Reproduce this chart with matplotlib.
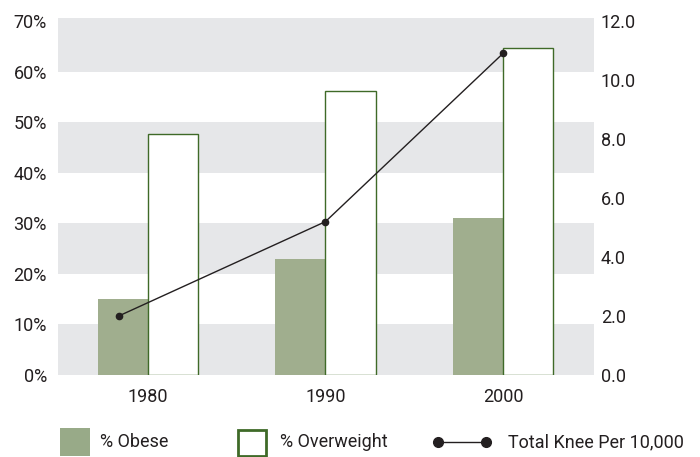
import matplotlib
matplotlib.use("Agg")
import matplotlib.pyplot as plt
from matplotlib.patches import Rectangle
from matplotlib.lines import Line2D
import numpy as np

plt.rcParams['font.family'] = ['Roboto', 'DejaVu Sans']

years = ["1980", "1990", "2000"]
obese = [15.0, 22.9, 31.0]
overweight = [47.6, 56.1, 64.6]
knee = [2.0, 5.2, 10.9]
left_ticks = [0, 10, 20, 30, 40, 50, 60, 70]
right_ticks = [0, 2, 4, 6, 8, 10, 12]

W, H = 700, 457
fig = plt.figure(figsize=(W / 100, H / 100), dpi=100)
ax = fig.add_axes([58 / W, 82 / H, 536 / W, 357 / H])
ax2 = ax.twinx()

obese_c = '#a0ae8e'
edge_c = '#3f6a28'
band_c = '#e6e7e9'
text_c = '#231f20'
fs = 13

x = np.arange(len(years))
bw = 0.282

ytop = 70.6
ax.set_ylim(0, ytop)
ax2.set_ylim(0, 12 * ytop / 70)
ax.set_xlim(-0.507, len(years) - 1 + 0.513)

# alternating bands
for lo, hi in [(0, 10), (20, 30), (40, 50), (60, ytop)]:
    ax.axhspan(lo, hi, color=band_c, zorder=0, lw=0)

ax.bar(x - bw / 2, obese, width=bw, color=obese_c, zorder=2, lw=0)
ax.bar(x + bw / 2, overweight, width=bw, facecolor='white', edgecolor=edge_c,
       linewidth=1.0, zorder=2)

# line (first point sits over the obese bar)
offs = [-0.165, 0, 0]
ax2.plot(x + np.array(offs), knee, color=text_c, lw=1.0, marker='o',
         markersize=4.5, zorder=5)
ax2.set_zorder(ax.get_zorder() + 1)
ax2.patch.set_visible(False)

for a in (ax, ax2):
    for s in a.spines.values():
        s.set_visible(False)
    a.tick_params(length=0, labelsize=fs, colors=text_c)

ax.set_yticks(left_ticks)
ax.set_yticklabels([f"{t}%" for t in left_ticks])
ax.tick_params(axis='y', pad=8)
ax2.set_yticks(right_ticks)
ax2.set_yticklabels([f"{t:.1f}" for t in right_ticks])
ax2.tick_params(axis='y', pad=5)
ax.set_xticks(x)
ax.set_xticklabels(years)
ax.tick_params(axis='x', pad=9)

# legend drawn manually in figure pixel coordinates
def fx(px):
    return px / W

def fy(py):
    return 1 - py / H

fig.add_artist(Rectangle((fx(60), fy(456)), 30 / W, 28 / H, transform=fig.transFigure,
                         facecolor='#98aa88', edgecolor='none'))
fig.text(fx(100), fy(442), "% Obese", fontsize=fs, va='center', color=text_c)
fig.add_artist(Rectangle((fx(238.5), fy(455.5)), 28 / W, 26 / H, transform=fig.transFigure,
                         facecolor='white', edgecolor=edge_c, lw=2))
fig.text(fx(280), fy(442), "% Overweight", fontsize=fs, va='center', color=text_c)
fig.add_artist(Line2D([fx(438), fx(486)], [fy(442), fy(442)], transform=fig.transFigure,
                      color=text_c, lw=1.0, marker='o', markersize=7))
fig.text(fx(508), fy(442), "Total Knee Per 10,000", fontsize=fs, va='center', color=text_c)

fig.savefig("out.png", dpi=100)
